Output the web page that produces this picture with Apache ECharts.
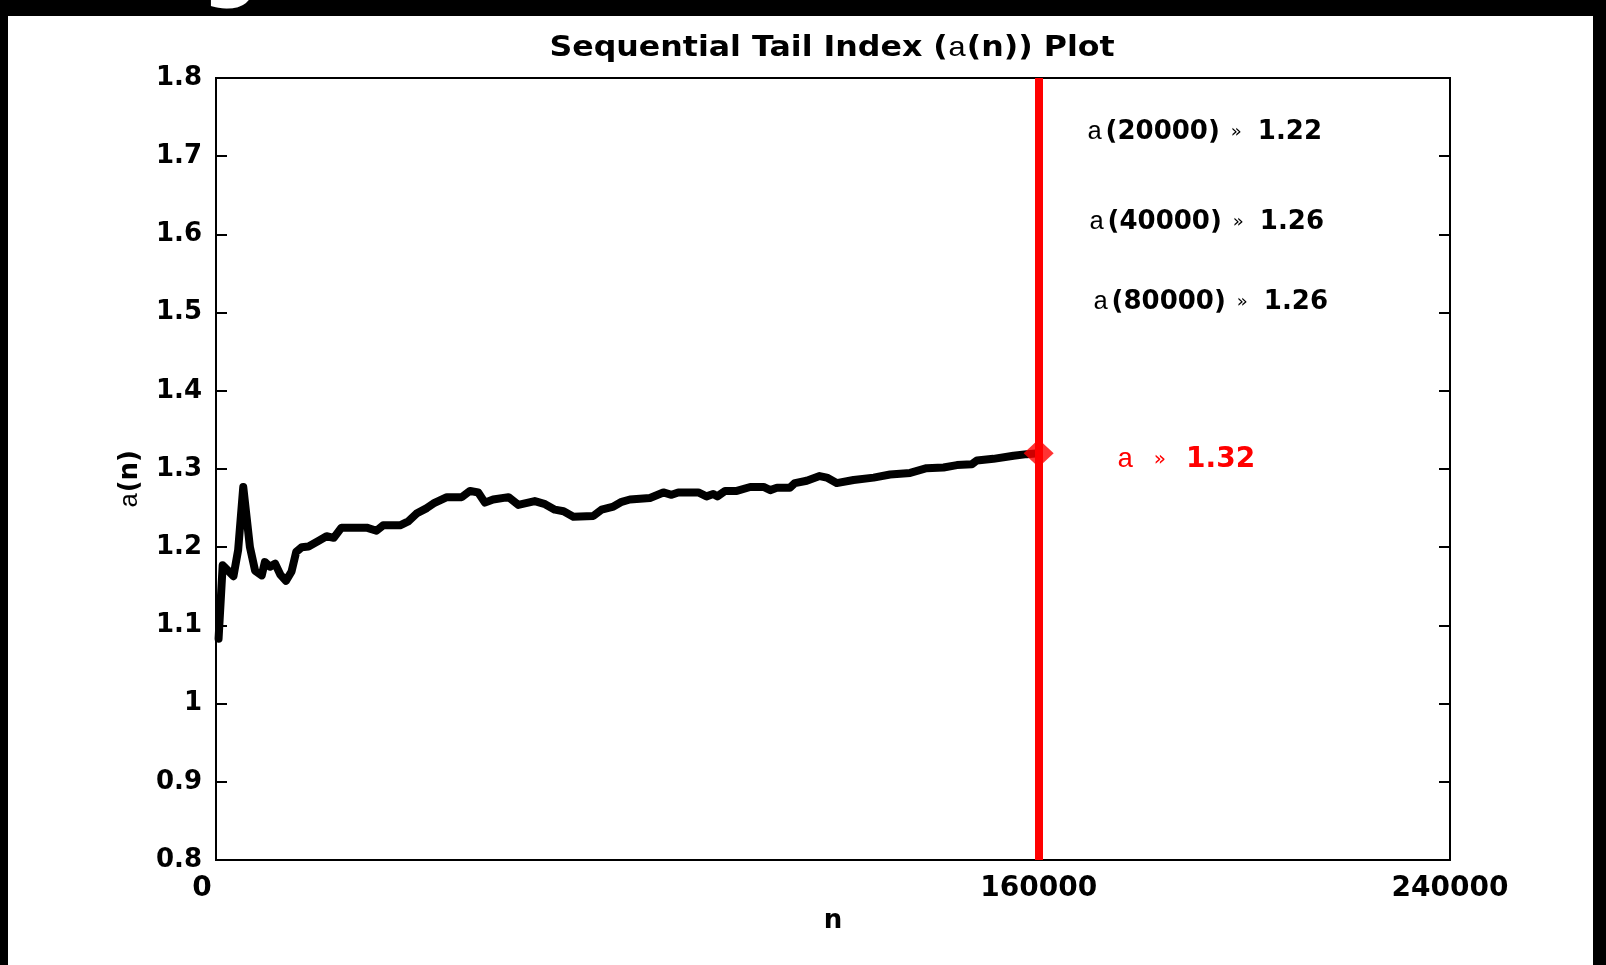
<!DOCTYPE html>
<html>
<head>
<meta charset="utf-8">
<script src="https://cdn.jsdelivr.net/npm/echarts@6/dist/echarts.min.js"></script>
<style>
html,body{margin:0;padding:0;background:#fff;}
#chart{width:1606px;height:965px;}
</style>
</head>
<body>
<div id="chart"></div>
<script>
// ---- data ----
const nValues = [500,1300,3400,4300,5300,6600,7600,8900,9500,10500,11500,12500,13600,14700,15600,16700,18000,19900,21500,22900,24400,29300,31200,32500,35800,37400,39000,41000,42300,44900,47800,49400,51000,52300,53900,56900,58800,62000,64000,65900,67600,69500,73400,75000,77300,78900,80500,84400,87000,88600,89900,93800,95400,96700,97500,99000,101300,103900,106500,107800,109100,111600,112600,114900,117400,118800,120700,124000,127900,131100,135000,138200,141500,144100,147000,148000,151200,155100,157700,160000];
const aValues = [1.083,1.177,1.163,1.196,1.277,1.200,1.170,1.164,1.181,1.175,1.179,1.165,1.157,1.169,1.194,1.200,1.201,1.208,1.214,1.212,1.225,1.225,1.221,1.228,1.228,1.233,1.243,1.250,1.256,1.264,1.264,1.272,1.270,1.257,1.261,1.264,1.254,1.259,1.255,1.248,1.246,1.239,1.240,1.248,1.252,1.258,1.261,1.263,1.270,1.267,1.270,1.270,1.265,1.268,1.265,1.272,1.272,1.277,1.277,1.273,1.276,1.276,1.282,1.285,1.291,1.289,1.282,1.286,1.289,1.293,1.295,1.301,1.302,1.305,1.306,1.311,1.313,1.317,1.319,1.320];
const xTickValues = [0, 160000, 240000];
const yMin = 0.8, yMax = 1.8, yStep = 0.1;
const finalN = 160000;
const finalA = 1.32;
const annoN = [20000, 40000, 80000];
const annoA = ['1.22', '1.26', '1.26'];
const finalLabel = '1.32';
const titleText = ['Sequential Tail Index (', 'a', '(n)) Plot'];
const xName = 'n';

// ---- chart ----
const FONT = 'DejaVu Sans';
const MONO = 'Liberation Mono';
const lineData = nValues.map((n, i) => [n, aValues[i]]);

const chart = echarts.init(document.getElementById('chart'), null, {renderer: 'canvas'});

function annoText(i) {
  return '{a|a}{b|(' + annoN[i] + ')}{g|\u00bb}{b|' + annoA[i] + '}';
}
const annoRich = {
  a: {fontFamily: MONO, fontSize: 26, fontWeight: 'normal', fill: '#000', padding: [0, 3, 0, 0]},
  b: {fontFamily: FONT, fontSize: 26, fontWeight: 'bold', fill: '#000'},
  g: {fontFamily: FONT, fontSize: 18, fontWeight: 'normal', fill: '#000', padding: [0, 16, 0, 11]}
};
const redRich = {
  a: {fontFamily: MONO, fontSize: 28, fontWeight: 'normal', fill: '#ff0000', padding: [0, 20, 0, 0]},
  b: {fontFamily: FONT, fontSize: 28, fontWeight: 'bold', fill: '#ff0000'},
  g: {fontFamily: FONT, fontSize: 20, fontWeight: 'normal', fill: '#ff0000', padding: [0, 20, 0, 0]}
};
const annoPos = [[1087, 132], [1089, 222], [1093, 302]];

const graphics = [
  // title
  {type: 'text', x: 832, y: 49, scaleX: 1.13, z: 10,
   style: {text: titleText[0] + '{a|' + titleText[1] + '}' + titleText[2],
     fontFamily: FONT, fontSize: 28, fontWeight: 'bold', fill: '#000', align: 'center', verticalAlign: 'middle',
     rich: {a: {fontFamily: MONO, fontSize: 28, fontWeight: 'normal', fill: '#000'}}}},
  // y axis name
  {type: 'text', x: 130, y: 479, rotation: Math.PI / 2, z: 10,
   style: {text: '{a|a}{b|(n)}', align: 'center', verticalAlign: 'middle', fill: '#000',
     fontFamily: FONT, fontSize: 26, fontWeight: 'bold',
     rich: {a: {fontFamily: MONO, fontSize: 26, fontWeight: 'normal', fill: '#000'},
            b: {fontFamily: FONT, fontSize: 26, fontWeight: 'bold', fill: '#000'}}}},
  // red final annotation
  {type: 'text', x: 1117, y: 460, z: 10,
   style: {text: '{a|a}{g|\u00bb}{b|' + finalLabel + '}', align: 'left', verticalAlign: 'middle',
     fontFamily: FONT, fontSize: 28, fill: '#ff0000', rich: redRich}},
  // black outer frame bands of the picture
  {type: 'rect', shape: {x: 0, y: 0, width: 1606, height: 16}, style: {fill: '#000'}, z: 20},
  {type: 'rect', shape: {x: 0, y: 0, width: 8, height: 965}, style: {fill: '#000'}, z: 20},
  {type: 'rect', shape: {x: 1593, y: 0, width: 13, height: 965}, style: {fill: '#000'}, z: 20},
  // cropped glyphs of a large heading above, visible inside the top band
  {type: 'text', x: 202, y: -30, z: 21,
   style: {text: 'g', fontFamily: FONT, fontSize: 80, fontWeight: 'bold', fill: '#fff', align: 'left', verticalAlign: 'middle'}},
  {type: 'text', x: 755, y: -32, z: 21,
   style: {text: ',', fontFamily: FONT, fontSize: 80, fontWeight: 'bold', fill: '#fff', align: 'left', verticalAlign: 'middle'}}
];
annoN.forEach((n, i) => {
  graphics.push({type: 'text', x: annoPos[i][0], y: annoPos[i][1], z: 10,
    style: {text: annoText(i), align: 'left', verticalAlign: 'middle', fontFamily: FONT, fontSize: 26, fill: '#000', rich: annoRich}});
});

const yLabelFmt = v => String(+v.toFixed(1));

chart.setOption({
  animation: false,
  backgroundColor: '#fff',
  grid: {left: 216, top: 78, width: 1234, height: 782, show: true, borderColor: '#000', borderWidth: 2, backgroundColor: '#fff'},
  xAxis: {
    type: 'value', min: 0, max: 240000,
    axisLine: {show: true, onZero: false, lineStyle: {color: '#000', width: 2}},
    axisTick: {show: false},
    splitLine: {show: false},
    axisLabel: {
      customValues: xTickValues,
      color: '#000', fontFamily: FONT, fontWeight: 'bold', fontSize: 28, margin: 15,
      formatter: v => (v === 0 ? '{z|0}' : String(v)),
      rich: {z: {fontFamily: FONT, fontWeight: 'bold', fontSize: 28, color: '#000', padding: [0, 28, 0, 0]}}
    },
    name: xName, nameLocation: 'middle', nameGap: 45,
    nameTextStyle: {color: '#000', fontFamily: FONT, fontWeight: 'bold', fontSize: 26}
  },
  yAxis: [
    {
      type: 'value', min: yMin, max: yMax, interval: yStep,
      axisLine: {show: true, lineStyle: {color: '#000', width: 2}},
      axisTick: {show: true, inside: true, length: 11, lineStyle: {color: '#000', width: 2}},
      splitLine: {show: false},
      axisLabel: {color: '#000', fontFamily: FONT, fontWeight: 'bold', fontSize: 26, margin: 14, formatter: yLabelFmt}
    },
    {
      type: 'value', min: yMin, max: yMax, interval: yStep, position: 'right',
      axisLine: {show: true, lineStyle: {color: '#000', width: 2}},
      axisTick: {show: true, inside: true, length: 11, lineStyle: {color: '#000', width: 2}},
      splitLine: {show: false},
      axisLabel: {show: false}
    }
  ],
  series: [
    {
      type: 'line', data: lineData, yAxisIndex: 0, showSymbol: false, symbol: 'none',
      lineStyle: {color: '#000', width: 8, join: 'round', cap: 'round'},
      z: 3,
      markLine: {
        silent: true, symbol: ['none', 'none'], label: {show: false},
        lineStyle: {color: '#ff0000', width: 8, type: 'solid'},
        data: [{xAxis: finalN}]
      }
    },
    {
      type: 'scatter', data: [[finalN, finalA]], yAxisIndex: 0,
      symbol: 'diamond', symbolSize: [30, 28],
      itemStyle: {color: '#ff0000'}, z: 10
    }
  ],
  graphic: graphics
});
</script>
</body>
</html>
